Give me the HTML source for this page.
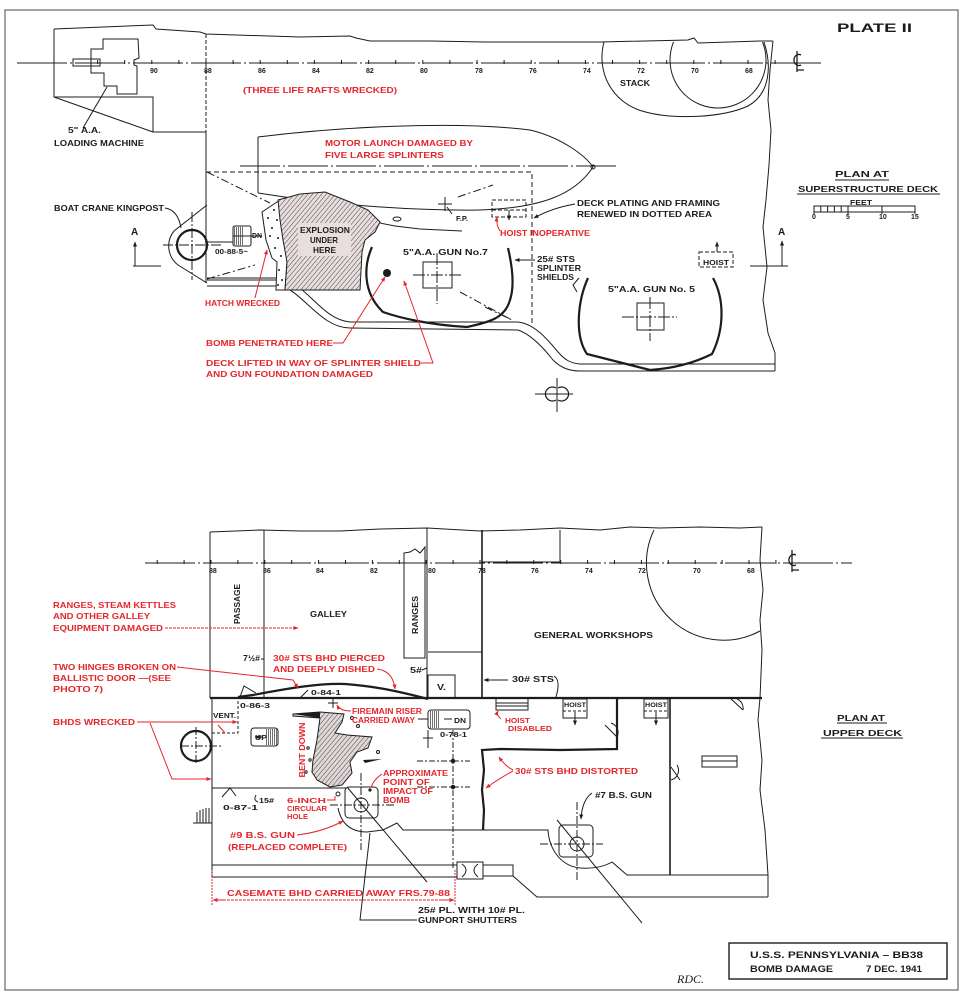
<!DOCTYPE html>
<html><head><meta charset="utf-8">
<style>
html,body{margin:0;padding:0;background:#fff}
svg{display:block}
text{font-family:"Liberation Sans",sans-serif;font-weight:bold;font-size:8.5px;fill:#1c1c1c}
text.r{fill:#e4262c}
text.s{font-size:7px}
text.m{font-size:7.5px}
</style></head>
<body>
<svg width="971" height="1000" viewBox="0 0 971 1000" xmlns="http://www.w3.org/2000/svg">
<defs>
<pattern id="h" width="3.5" height="3.5" patternUnits="userSpaceOnUse" patternTransform="rotate(40)"><line x1="0" y1="0" x2="0" y2="3.5" stroke="#333" stroke-width="0.9"/></pattern>
<pattern id="vh" width="2" height="4" patternUnits="userSpaceOnUse"><line x1="0.5" y1="0" x2="0.5" y2="4" stroke="#333" stroke-width="0.7"/></pattern>
<marker id="a" viewBox="0 0 10 10" refX="9" refY="5" markerWidth="5" markerHeight="5" orient="auto"><path d="M0,1 L10,5 L0,9 z" fill="#1c1c1c"/></marker>
<marker id="ar" viewBox="0 0 10 10" refX="9" refY="5" markerWidth="5" markerHeight="5" orient="auto"><path d="M0,1 L10,5 L0,9 z" fill="#e4262c"/></marker>
<clipPath id="stk"><rect x="590" y="42" width="190" height="100"/></clipPath>
</defs>
<rect width="971" height="1000" fill="#fff"/>
<rect x="5" y="10" width="953" height="980" fill="none" stroke="#666" stroke-width="1.2"/>

<!-- ================= TOP PLAN ================= -->
<g fill="none" stroke="#1c1c1c" stroke-width="1">
  <path d="M17,63 H822" stroke-dasharray="50 3 2 3"/>
  <path d="M97.6,60V64M124.7,60V64M151.8,60V64M178.9,60V64M206,60V64M233.1,60V64M260.2,60V64M287.3,60V64M314.4,60V64M341.5,60V64M368.6,60V64M395.7,60V64M422.8,60V64M449.9,60V64M477,60V64M504.1,60V64M531.2,60V64M558.3,60V64M585.4,60V64M612.5,60V64M639.6,60V64M666.7,60V64M693.8,60V64M720.9,60V64M748,60V64M775.1,60V64"/>
  <path d="M797,51 V72 M797,70 H804 M801,55 A5,5.5 0 1 0 801,65" stroke-width="1.3"/>
  <path d="M54,29 L153,25 L156,29 L200,32 L206,34 L300,37 L350,36 L356,38 L370,41 L430,41 L485,42 L540,42 L600,42 L688,40 L694,38 L698,43 L760,41 L773,41"/>
  <path d="M773,41 L770,70 L768,100 L771,130 L769,165 L766,200 L763,227 L767,267 L763,300 L768,333 L775,353 L775,371"/>
  <path d="M54,29 V97 H153 V132 H206 M54,97 L153,132"/>
  <path d="M103,39 L138,39 L139,58 L134,60 L134,65 L137,66 L137,94 L117,94 L117,86 L104,86 L104,73 L91,73 L91,49 L103,49 Z"/>
  <rect x="73" y="59" width="27" height="7"/>
  <path d="M83,128 L107,87"/>
  <path d="M206,34 V132" stroke-dasharray="4 2"/>
  <path d="M206,132 V283"/>
  <path d="M206,172 H532 V325" stroke-dasharray="5 3"/>
  <path d="M258,137 C330,128 450,120 530,130 C560,137 585,155 593,167"/>
  <path d="M258,193 C320,203 400,211 480,210 C540,208 575,195 593,167"/>
  <path d="M258,137 V193"/>
  <circle cx="593" cy="167" r="2"/>
  <path d="M240,166 H618" stroke-dasharray="40 3 2 3"/>
  <path d="M207,172 L270,203 M458,197 L493,185 M460,292 L512,320 M207,279 L255,265 M485,307 L512,320" stroke-dasharray="8 3 2 3"/>
  <path d="M207,205 L174,231 A24,24 0 0 0 178,265 L207,283"/>
  <path d="M163,245 H222 M192,212 V280" stroke-dasharray="10 2 2 2"/>
  <path d="M165,208 Q178,210 181,228"/>
  <path d="M133,266 H161"/>
  <path d="M135,266 V242" marker-end="url(#a)"/>
  <path d="M750,266 H788"/>
  <path d="M782,266 V241" marker-end="url(#a)"/>
  <rect x="233" y="226" width="18" height="20" rx="2"/>
  <path d="M233,236 H262" />
  <path d="M205,242 H233"/>
  <path d="M207,280 L283,280 C305,282 322,320 350,322 L518,322 C535,324 548,340 558,352 C565,360 570,363 580,364 L775,364"/>
  <path d="M207,286 L280,286 C302,290 320,328 350,328 L518,330 C530,334 542,346 553,360 C560,367 568,371 580,371 L775,371"/>
  <path d="M207,278 H285"/>
  <!-- stack -->
  <path d="M604,42 C596,72 612,102 642,111 C672,120 722,118 748,106 C770,94 772,66 764,42"/>
  <circle cx="718" cy="60" r="48" clip-path="url(#stk)"/>
  <rect x="423" y="262" width="29" height="26"/>
  <path d="M413,275 H463 M437,253 V304" stroke-dasharray="12 2 2 2"/>
  <rect x="637" y="303" width="27" height="27"/>
  <path d="M622,317 H677 M650,297 V341" stroke-dasharray="12 2 2 2"/>
  <path d="M438,204 H452 M445,197 V211 M447,207 L452,214"/>
  <rect x="492" y="200" width="34" height="17" stroke-dasharray="4 2"/>
  <path d="M492,210 H526" stroke-dasharray="4 2"/>
  <path d="M509,210 V220" marker-end="url(#a)"/>
  <path d="M575,204 Q552,208 534,218" marker-end="url(#a)"/>
  <path d="M535,260 H515" marker-end="url(#a)"/>
  <path d="M579,278 L573,285 L577,292"/>
  <rect x="699" y="252" width="34" height="15" stroke-dasharray="4 2"/>
  <path d="M717,252 V242" marker-end="url(#a)"/>
  <path d="M380,223 L395,226 L420,229 L462,231"/>
  <ellipse cx="397" cy="219" rx="4" ry="2"/>
  <path d="M535,394 H573 M557,378 V412"/>
  <path d="M556,388 A7,7 0 1 0 556,400 M558,388 A7,7 0 1 1 558,400" stroke-width="1.2"/>
  <rect x="814" y="206" width="101" height="6"/>
  <path d="M820.8,206V212M827.6,206V212M834.4,206V212M841.2,206V212M848,206V214M882,206V214M915,206V214M814,206V214"/>
  <path d="M835,180 H889 M797,194 H940"/>
</g>
<g fill="none" stroke="#1c1c1c" stroke-width="2.2">
  <circle cx="192" cy="245" r="15"/>
  <path d="M372,247 C364,265 362,292 383,312 C400,318 430,325 467,327 C490,322 505,318 510,300 C515,285 512,265 508,248"/>
  <path d="M588,278 C578,300 574,335 587,354 L650,370 C680,368 700,360 712,354 C724,330 725,300 713,278"/>
</g>
<path d="M262,212 L280,200 L283,228 L287,262 L285,290 L276,290 L277,262 L272,258 L266,240 Z" fill="#fff" stroke="#1c1c1c" stroke-width="1"/>
<g fill="#1c1c1c">
<circle cx="268" cy="218" r="1"/><circle cx="274" cy="210" r="1"/><circle cx="272" cy="228" r="1"/><circle cx="278" cy="238" r="1"/><circle cx="275" cy="248" r="1"/><circle cx="281" cy="256" r="1"/><circle cx="279" cy="270" r="1"/><circle cx="282" cy="280" r="1"/><circle cx="278" cy="285" r="1"/><circle cx="270" cy="236" r="1"/><circle cx="277" cy="220" r="1"/>
<ellipse cx="387" cy="273" rx="4" ry="4"/>
</g>
<path d="M278,200 L300,194 L325,192 L350,202 L368,210 L380,222 L375,232 L365,240 L362,252 L360,290 L285,290 L287,262 L283,240 L280,220 Z" fill="#e8dede" stroke="#1c1c1c" stroke-width="1"/>
<path d="M278,200 L300,194 L325,192 L350,202 L368,210 L380,222 L375,232 L365,240 L362,252 L360,290 L285,290 L287,262 L283,240 L280,220 Z" fill="url(#h)"/>
<rect x="298" y="223" width="53" height="33" fill="#e8dede"/>
<rect x="234" y="227" width="10" height="18" fill="url(#vh)"/>

<g fill="none" stroke="#e4262c" stroke-width="1">
  <path d="M333,343 H343 L385,277" marker-end="url(#ar)"/>
  <path d="M421,363 H433 L404,281" marker-end="url(#ar)"/>
  <path d="M255,298 L267,250" marker-end="url(#ar)"/>
  <path d="M500,231 Q496,225 497,217" marker-end="url(#ar)"/>
</g>

<text x="837" y="32" style="font-size:11.5px" textLength="75" lengthAdjust="spacingAndGlyphs">PLATE  II</text>
<text x="68" y="133" textLength="33" lengthAdjust="spacingAndGlyphs">5" A.A.</text>
<text x="54" y="146" textLength="90" lengthAdjust="spacingAndGlyphs">LOADING MACHINE</text>
<text class="r" x="243" y="93" textLength="154" lengthAdjust="spacingAndGlyphs">(THREE LIFE RAFTS WRECKED)</text>
<text class="r" x="325" y="146" textLength="148" lengthAdjust="spacingAndGlyphs">MOTOR LAUNCH DAMAGED BY</text>
<text class="r" x="325" y="158" textLength="119" lengthAdjust="spacingAndGlyphs">FIVE LARGE SPLINTERS</text>
<text x="54" y="211" textLength="110" lengthAdjust="spacingAndGlyphs">BOAT CRANE KINGPOST</text>
<text x="300" y="233" textLength="50" lengthAdjust="spacingAndGlyphs">EXPLOSION</text>
<text x="310" y="243" textLength="28" lengthAdjust="spacingAndGlyphs">UNDER</text>
<text x="313" y="253" textLength="23" lengthAdjust="spacingAndGlyphs">HERE</text>
<text class="s" x="252" y="238" textLength="10" lengthAdjust="spacingAndGlyphs">DN</text>
<text class="s" x="215" y="254" textLength="33" lengthAdjust="spacingAndGlyphs">00-88-5~</text>
<text class="r" x="205" y="306" textLength="75" lengthAdjust="spacingAndGlyphs">HATCH WRECKED</text>
<text class="r" x="206" y="346" textLength="127" lengthAdjust="spacingAndGlyphs">BOMB PENETRATED HERE</text>
<text class="r" x="206" y="366" textLength="215" lengthAdjust="spacingAndGlyphs">DECK LIFTED IN WAY OF SPLINTER SHIELD</text>
<text class="r" x="206" y="377" textLength="167" lengthAdjust="spacingAndGlyphs">AND GUN FOUNDATION DAMAGED</text>
<text x="403" y="255" textLength="85" lengthAdjust="spacingAndGlyphs">5"A.A. GUN No.7</text>
<text class="s" x="456" y="221" textLength="12" lengthAdjust="spacingAndGlyphs">F.P.</text>
<text class="r" x="500" y="236" textLength="90" lengthAdjust="spacingAndGlyphs">HOIST INOPERATIVE</text>
<text x="577" y="206" textLength="143" lengthAdjust="spacingAndGlyphs">DECK PLATING AND FRAMING</text>
<text x="577" y="217" textLength="135" lengthAdjust="spacingAndGlyphs">RENEWED IN DOTTED AREA</text>
<text x="537" y="262" textLength="38" lengthAdjust="spacingAndGlyphs">25# STS</text>
<text x="537" y="271" textLength="44" lengthAdjust="spacingAndGlyphs">SPLINTER</text>
<text x="537" y="280" textLength="37" lengthAdjust="spacingAndGlyphs">SHIELDS</text>
<text x="608" y="292" textLength="87" lengthAdjust="spacingAndGlyphs">5"A.A. GUN No. 5</text>
<text class="m" x="703" y="265" textLength="26" lengthAdjust="spacingAndGlyphs">HOIST</text>
<text x="620" y="86" textLength="30" lengthAdjust="spacingAndGlyphs">STACK</text>
<text x="835" y="177" textLength="54" lengthAdjust="spacingAndGlyphs">PLAN AT</text>
<text x="798" y="192" textLength="140" lengthAdjust="spacingAndGlyphs">SUPERSTRUCTURE DECK</text>
<text class="s" x="850" y="205" textLength="22" lengthAdjust="spacingAndGlyphs">FEET</text>
<text class="s" x="812" y="219">0</text>
<text class="s" x="846" y="219">5</text>
<text class="s" x="879" y="219">10</text>
<text class="s" x="911" y="219">15</text>
<text x="131" y="235" style="font-size:10px">A</text>
<text x="778" y="235" style="font-size:10px">A</text>
<g>
<text class="s" x="150" y="73">90</text><text class="s" x="204" y="73">88</text><text class="s" x="258" y="73">86</text><text class="s" x="312" y="73">84</text><text class="s" x="366" y="73">82</text><text class="s" x="420" y="73">80</text><text class="s" x="475" y="73">78</text><text class="s" x="529" y="73">76</text><text class="s" x="583" y="73">74</text><text class="s" x="637" y="73">72</text><text class="s" x="691" y="73">70</text><text class="s" x="745" y="73">68</text>
</g>

<!-- ================= LOWER PLAN ================= -->
<g fill="none" stroke="#1c1c1c" stroke-width="1">
  <path d="M145,563 H852" stroke-dasharray="50 3 2 3"/>
  <path d="M157.2,560V564M184.1,560V564M211,560V564M237.9,560V564M264.8,560V564M291.7,560V564M318.6,560V564M345.5,560V564M372.4,560V564M399.3,560V564M426.2,560V564M453.1,560V564M480,560V564M506.9,560V564M533.8,560V564M560.7,560V564M587.6,560V564M614.5,560V564M641.4,560V564M668.3,560V564M695.2,560V564M722.1,560V564M749,560V564M775.9,560V564"/>
  <path d="M792,550 V572 M792,570 H799 M796,555 A5,5.5 0 1 0 796,565" stroke-width="1.3"/>
  <path d="M210,532 L260,530 L300,531 L340,531 L380,529 L427,528 L480,531 L520,530 L560,528 L600,530 L630,527 L660,528 L700,527 L740,528 L762,527"/>
  <path d="M762,527 L760,560 L763,590 L760,620 L762,650 L760,698 L758,720 L762,760 L760,790 L765,830 L768,875 L768,897"/>
  <path d="M210,532 V698 M264,530 V698 M427,528 V698"/>
  <path d="M482,530 V698" stroke-width="1.6"/>
  <path d="M404,553 L404,658 L425,658 L425,547 L420,553 L415,549 L410,552 Z"/>
  <path d="M428,652 H482"/>
  <rect x="428" y="675" width="27" height="23"/>
  <path d="M482,562 H560 V530"/>
  <path d="M654,530 A77,77 0 0 0 760,631"/>
  <path d="M240,697 L244,686 L256,693 M300,698 L308,690"/>
  <path d="M212,698 V877"/>
  <path d="M212,733 H238 V700" stroke-dasharray="3 2"/>
  <path d="M181,746 H222 M196,727 V765" stroke-dasharray="8 2 2 2"/>
  <path d="M212,788 H347"/>
  <rect x="251" y="728" width="27" height="18" rx="3"/>
  <path d="M262,737 H255" marker-end="url(#a)"/>
  <rect x="428" y="710" width="42" height="19" rx="3"/>
  <path d="M418,719 H428 M444,719 H452" />
  <rect x="345" y="787" width="33" height="31" rx="4"/>
  <circle cx="361" cy="805" r="7"/>
  <path d="M330,805 H395 M361,773 V850" stroke-dasharray="8 2 2 2"/>
  <path d="M347,787 L427,882"/>
  <path d="M338,808 Q343,832 367,832 L383,830 L397,823 L403,830 L548,830 C549,848 560,866 580,868 C595,869 605,866 612,862 L627,875 L768,875"/>
  <path d="M212,865 H457 M212,877 H457"/>
  <rect x="457" y="862" width="26" height="17"/>
  <path d="M462,864 Q470,870 462,877 M478,864 Q470,870 478,877"/>
  <path d="M483,865 H513 V876 L537,897 H768 M483,876 H513"/>
  <rect x="559" y="825" width="34" height="32" rx="4"/>
  <circle cx="577" cy="844" r="7"/>
  <path d="M540,844 H603 M577,802 V882" stroke-dasharray="8 2 2 2"/>
  <path d="M557,820 L642,923"/>
  <path d="M670,698 V875" stroke-width="1.6"/>
  <rect x="702" y="756" width="35" height="11"/>
  <path d="M702,761 H737"/>
  <path d="M605,725 L617,737 M611,723 A10,10 0 0 1 617,737 M671,767 L680,780 M677,765 A10,10 0 0 1 671,780 M730,698 L743,710 M737,699 A10,10 0 0 1 743,710 M222,797 L230,788 L236,796"/>
  <rect x="563" y="699" width="24" height="19"/>
  <path d="M563,711 H587" stroke-dasharray="3 2"/>
  <path d="M575,712 V725" marker-end="url(#a)"/>
  <rect x="644" y="699" width="24" height="19"/>
  <path d="M644,711 H668" stroke-dasharray="3 2"/>
  <path d="M656,712 V725" marker-end="url(#a)"/>
  <rect x="496" y="698" width="32" height="12"/>
  <path d="M496,703 H528 M496,706 H528"/>
  <path d="M417,761 H470 M417,787 H470 M453,730 V870 M428,730 V750" stroke-dasharray="6 2 2 2"/>
  <path d="M328,703 H338 M333,698 V708 M423,738 H433 M428,733 V743"/>
  <circle cx="453" cy="761" r="1.8" fill="#1c1c1c"/>
  <circle cx="453" cy="787" r="1.8" fill="#1c1c1c"/>
  <circle cx="338" cy="794" r="2"/>
  <path d="M508,680 H484" marker-end="url(#a)"/>
  <path d="M554,676 Q561,680 556,697"/>
  <path d="M592,793 Q582,800 581,819" marker-end="url(#a)"/>
  <path d="M417,920 H360 L370,833"/>
  <path d="M261,659 H264 M422,670 L427,668"/>
  <path d="M256,795 Q253,800 258,802"/>
  <path d="M837,723 H887 M821,738 H903"/>
  <rect x="729" y="943" width="218" height="36" stroke-width="1.4"/>
  <path d="M193,823 H212 M197,823 V812 M200,823 V810 M203,823 V809 M206,823 V808 M209,823 V808"/>
</g>
<g fill="none" stroke="#1c1c1c" stroke-width="2.2">
  <path d="M698,698 H762 M210,698 H698"/>
  <path d="M238,697 L253,695 C290,688 320,683 345,684 C370,686 390,689 428,699"/>
  <circle cx="196" cy="746" r="15"/>
  <path d="M483,830 L484,810 L482,790 L484,770 L482,750 L500,749 L560,750 L617,749 L617,698"/>
</g>
<path d="M293,714 L320,712 L344,714 L342,722 L335,733 L347,735 L372,737 L368,748 L357,752 L350,762 L352,773 L342,785 L330,787 L317,780 L312,772 L313,760 L317,740 L320,718 L293,716 Z" fill="#e0d8d8" stroke="#1c1c1c" stroke-width="1"/>
<path d="M320,712 L344,714 L342,722 L335,733 L347,735 L372,737 L368,748 L357,752 L350,762 L352,773 L342,785 L330,787 L317,780 L312,772 L313,760 L317,740 L320,718 Z" fill="url(#h)"/>
<path d="M293,714 L320,712 L320,718 Z M363,760 L382,759 L365,763 Z" fill="#1c1c1c"/>
<g fill="none" stroke="#1c1c1c" stroke-width="1">
<circle cx="352" cy="718" r="1.5"/><circle cx="358" cy="726" r="1.5"/><circle cx="378" cy="752" r="1.5"/><circle cx="308" cy="748" r="1.2"/><circle cx="310" cy="760" r="1.2"/><circle cx="306" cy="772" r="1.2"/>
</g>
<rect x="266" y="729" width="11" height="16" fill="url(#vh)"/>
<rect x="429" y="711" width="10" height="17" fill="url(#vh)"/>
<circle cx="370" cy="790" r="1.6" fill="#1c1c1c"/>

<g fill="none" stroke="#e4262c" stroke-width="1">
  <path d="M165,628 H298" stroke-dasharray="3 1" marker-end="url(#ar)"/>
  <path d="M177,667 L293,680 L298,688" marker-end="url(#ar)"/>
  <path d="M377,669 Q393,671 395,689" marker-end="url(#ar)"/>
  <path d="M137,722 H237" marker-end="url(#ar)"/>
  <path d="M150,723 L172,779 H211" marker-end="url(#ar)"/>
  <path d="M218,725 L225,733"/>
  <path d="M351,711 Q340,711 337,705" marker-end="url(#ar)"/>
  <path d="M501,719 Q496,715 498,711" marker-end="url(#ar)"/>
  <path d="M513,770 Q505,766 499,757" marker-end="url(#ar)"/>
  <path d="M513,771 Q500,778 486,788" marker-end="url(#ar)"/>
  <path d="M382,774 Q373,780 371,788"/>
  <path d="M327,800 H335 V796"/>
  <path d="M297,835 Q323,832 343,821" marker-end="url(#ar)"/>
  <path d="M215,900 H453" stroke-dasharray="3 1"/>
  <path d="M225,900 H213" marker-end="url(#ar)"/>
  <path d="M440,900 H454" marker-end="url(#ar)"/>
  <path d="M212,870 V906 M455,870 V906" stroke-dasharray="2 1"/>
</g>

<g>
<text class="s" x="209" y="573">88</text><text class="s" x="263" y="573">86</text><text class="s" x="316" y="573">84</text><text class="s" x="370" y="573">82</text><text class="s" x="428" y="573">80</text><text class="s" x="478" y="573">78</text><text class="s" x="531" y="573">76</text><text class="s" x="585" y="573">74</text><text class="s" x="638" y="573">72</text><text class="s" x="693" y="573">70</text><text class="s" x="747" y="573">68</text>
</g>
<text class="r" x="53" y="608" textLength="123" lengthAdjust="spacingAndGlyphs">RANGES, STEAM KETTLES</text>
<text class="r" x="53" y="619" textLength="97" lengthAdjust="spacingAndGlyphs">AND OTHER GALLEY</text>
<text class="r" x="53" y="631" textLength="110" lengthAdjust="spacingAndGlyphs">EQUIPMENT DAMAGED</text>
<text class="r" x="53" y="670" textLength="123" lengthAdjust="spacingAndGlyphs">TWO HINGES BROKEN ON</text>
<text class="r" x="53" y="681" textLength="118" lengthAdjust="spacingAndGlyphs">BALLISTIC DOOR —(SEE</text>
<text class="r" x="53" y="692" textLength="50" lengthAdjust="spacingAndGlyphs">PHOTO 7)</text>
<text class="r" x="53" y="725" textLength="82" lengthAdjust="spacingAndGlyphs">BHDS WRECKED</text>
<text x="237" y="607" text-anchor="middle" transform="rotate(-90 237 604)" textLength="40" lengthAdjust="spacingAndGlyphs">PASSAGE</text>
<text x="310" y="617" textLength="37" lengthAdjust="spacingAndGlyphs">GALLEY</text>
<text x="415" y="618" text-anchor="middle" transform="rotate(-90 415 615)" textLength="38" lengthAdjust="spacingAndGlyphs">RANGES</text>
<text x="243" y="661" textLength="17" lengthAdjust="spacingAndGlyphs">7½#</text>
<text class="r" x="273" y="661" textLength="112" lengthAdjust="spacingAndGlyphs">30# STS BHD PIERCED</text>
<text class="r" x="273" y="672" textLength="102" lengthAdjust="spacingAndGlyphs">AND DEEPLY DISHED</text>
<text x="410" y="673" textLength="12" lengthAdjust="spacingAndGlyphs">5#</text>
<text x="437" y="690" textLength="9" lengthAdjust="spacingAndGlyphs">V.</text>
<text class="s" x="311" y="695" textLength="30" lengthAdjust="spacingAndGlyphs">0-84-1</text>
<text class="s" x="240" y="708" textLength="30" lengthAdjust="spacingAndGlyphs">0-86-3</text>
<text class="s" x="213" y="718" textLength="23" lengthAdjust="spacingAndGlyphs">VENT.</text>
<text x="534" y="638" textLength="119" lengthAdjust="spacingAndGlyphs">GENERAL WORKSHOPS</text>
<text x="512" y="682" textLength="42" lengthAdjust="spacingAndGlyphs">30# STS</text>
<text class="s" x="564" y="707" style="font-size:6.5px" textLength="22" lengthAdjust="spacingAndGlyphs">HOIST</text>
<text class="s" x="645" y="707" style="font-size:6.5px" textLength="22" lengthAdjust="spacingAndGlyphs">HOIST</text>
<text class="r" x="352" y="714" style="font-size:8px" textLength="70" lengthAdjust="spacingAndGlyphs">FIREMAIN RISER</text>
<text class="r" x="352" y="723" style="font-size:8px" textLength="63" lengthAdjust="spacingAndGlyphs">CARRIED AWAY</text>
<text class="s" x="454" y="723" textLength="12" lengthAdjust="spacingAndGlyphs">DN</text>
<text class="s" x="440" y="737" textLength="27" lengthAdjust="spacingAndGlyphs">0-78-1</text>
<text class="s" x="255" y="740" textLength="12" lengthAdjust="spacingAndGlyphs">UP</text>
<text class="r m" x="505" y="723" textLength="25" lengthAdjust="spacingAndGlyphs">HOIST</text>
<text class="r m" x="508" y="731" textLength="44" lengthAdjust="spacingAndGlyphs">DISABLED</text>
<text class="r" x="515" y="774" textLength="123" lengthAdjust="spacingAndGlyphs">30# STS BHD DISTORTED</text>
<text class="r" x="302" y="753" text-anchor="middle" transform="rotate(-90 302 750)" style="font-size:8px" textLength="55" lengthAdjust="spacingAndGlyphs">BENT DOWN</text>
<text class="r" x="383" y="776" style="font-size:8px" textLength="65" lengthAdjust="spacingAndGlyphs">APPROXIMATE</text>
<text class="r" x="383" y="785" style="font-size:8px" textLength="47" lengthAdjust="spacingAndGlyphs">POINT OF</text>
<text class="r" x="383" y="794" style="font-size:8px" textLength="50" lengthAdjust="spacingAndGlyphs">IMPACT OF</text>
<text class="r" x="383" y="803" style="font-size:8px" textLength="27" lengthAdjust="spacingAndGlyphs">BOMB</text>
<text class="r m" x="287" y="803" textLength="39" lengthAdjust="spacingAndGlyphs">6-INCH</text>
<text class="r m" x="287" y="811" textLength="40" lengthAdjust="spacingAndGlyphs">CIRCULAR</text>
<text class="r m" x="287" y="819" textLength="21" lengthAdjust="spacingAndGlyphs">HOLE</text>
<text class="r" x="230" y="838" textLength="65" lengthAdjust="spacingAndGlyphs">#9 B.S. GUN</text>
<text class="r" x="228" y="850" textLength="119" lengthAdjust="spacingAndGlyphs">(REPLACED COMPLETE)</text>
<text class="s" x="259" y="803" textLength="15" lengthAdjust="spacingAndGlyphs">15#</text>
<text class="s" x="223" y="810" textLength="35" lengthAdjust="spacingAndGlyphs">0-87-1</text>
<text x="595" y="798" textLength="57" lengthAdjust="spacingAndGlyphs">#7 B.S. GUN</text>
<text class="r" x="227" y="896" textLength="223" lengthAdjust="spacingAndGlyphs">CASEMATE BHD CARRIED AWAY FRS.79-88</text>
<text x="418" y="913" textLength="107" lengthAdjust="spacingAndGlyphs">25# PL. WITH 10# PL.</text>
<text x="418" y="923" textLength="99" lengthAdjust="spacingAndGlyphs">GUNPORT SHUTTERS</text>
<text x="837" y="721" textLength="48" lengthAdjust="spacingAndGlyphs">PLAN AT</text>
<text x="823" y="736" textLength="79" lengthAdjust="spacingAndGlyphs">UPPER DECK</text>
<text x="750" y="958" style="font-size:9.5px" textLength="173" lengthAdjust="spacingAndGlyphs">U.S.S. PENNSYLVANIA – BB38</text>
<text x="750" y="972" style="font-size:9px" textLength="83" lengthAdjust="spacingAndGlyphs">BOMB DAMAGE</text>
<text x="866" y="972" style="font-size:9px" textLength="56" lengthAdjust="spacingAndGlyphs">7 DEC. 1941</text>
<text x="677" y="983" style="font-family:'Liberation Serif',serif;font-style:italic;font-weight:normal;font-size:12px">RDC.</text>
</svg>
</body></html>
